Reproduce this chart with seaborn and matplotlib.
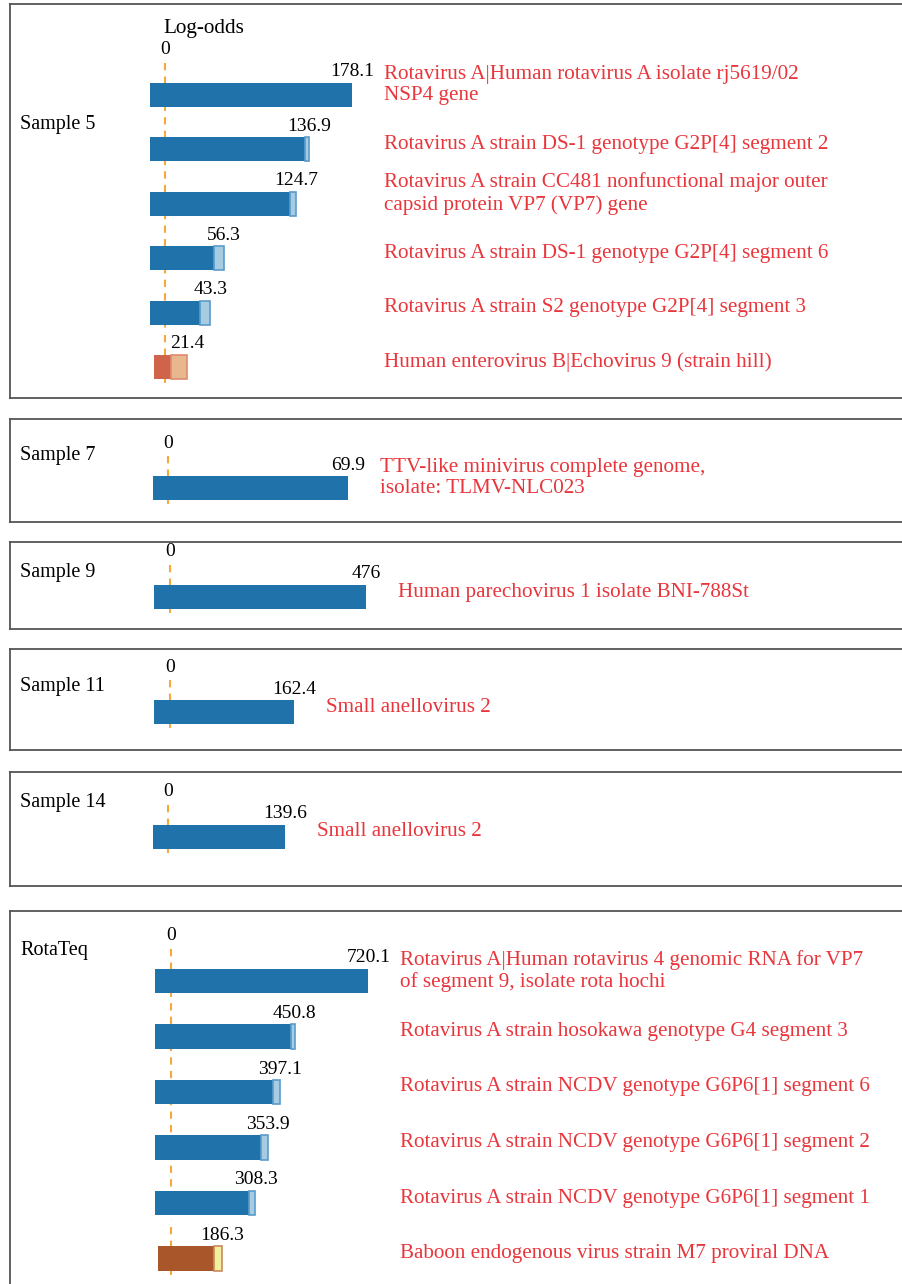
import numpy as np
import pandas as pd
import matplotlib
matplotlib.use('Agg')
import matplotlib.pyplot as plt
import seaborn as sns

# ---- data ----
s5_labels = ['Rotavirus A|Human rotavirus A isolate rj5619/02\nNSP4 gene',
             'Rotavirus A strain DS-1 genotype G2P[4] segment 2',
             'Rotavirus A strain CC481 nonfunctional major outer\ncapsid protein VP7 (VP7) gene',
             'Rotavirus A strain DS-1 genotype G2P[4] segment 6',
             'Rotavirus A strain S2 genotype G2P[4] segment 3',
             'Human enterovirus B|Echovirus 9 (strain hill)']
s5_values = [178.1, 136.9, 124.7, 56.3, 43.3, 21.4]
s5_err = [0, 3.2, 5.4, 9.8, 9.5, 15.9]
s5_kind = ['rota', 'rota', 'rota', 'rota', 'rota', 'entero']

s7_labels = ['TTV-like minivirus complete genome,\nisolate: TLMV-NLC023']
s7_values = [69.9]
s7_err = [0]
s7_kind = ['rota']

s9_labels = ['Human parechovirus 1 isolate BNI-788St']
s9_values = [476]
s9_err = [0]
s9_kind = ['rota']

s11_labels = ['Small anellovirus 2']
s11_values = [162.4]
s11_err = [0]
s11_kind = ['rota']

s14_labels = ['Small anellovirus 2']
s14_values = [139.6]
s14_err = [0]
s14_kind = ['rota']

rt_labels = ['Rotavirus A|Human rotavirus 4 genomic RNA for VP7\nof segment 9, isolate rota hochi',
             'Rotavirus A strain hosokawa genotype G4 segment 3',
             'Rotavirus A strain NCDV genotype G6P6[1] segment 6',
             'Rotavirus A strain NCDV genotype G6P6[1] segment 2',
             'Rotavirus A strain NCDV genotype G6P6[1] segment 1',
             'Baboon endogenous virus strain M7 proviral DNA']
rt_values = [720.1, 450.8, 397.1, 353.9, 308.3, 186.3]
rt_err = [0, 13.4, 24, 24, 23, 28]
rt_kind = ['rota', 'rota', 'rota', 'rota', 'rota', 'retro']

sample_names = ['Sample 5', 'Sample 7', 'Sample 9', 'Sample 11', 'Sample 14', 'RotaTeq']

# ---- styling ----
dark = {'rota': '#2072aa', 'entero': '#cf644b', 'retro': '#a9572a'}
light = {'rota': '#a7cbe1', 'entero': '#e9b78d', 'retro': '#f3f09c'}
light_edge = {'rota': '#5a9bcc', 'entero': '#e08a70', 'retro': '#c98a60'}
lead_px = {'rota': 15.5, 'entero': 11, 'retro': 13}
red = '#e8363c'
zero_color = '#f6a93b'

W, H = 903, 1284
# top, bottom, zero x, px per unit, first bar y, bar step, name y (all in pixels)
layout = [
    (4, 398, 165, 1.05, 95, 54.4, 125),
    (419, 522, 168.5, 2.565, 488, 54, 455),
    (542, 629, 170, 0.412, 597, 54, 573),
    (649, 750, 170, 0.762, 712, 54, 687),
    (772, 886, 168.5, 0.833, 837, 54, 803),
    (911, 1300, 171, 0.274, 981, 55.5, 950),
]

sns.set_theme(style='white')
plt.rcParams['font.family'] = ['Liberation Serif', 'DejaVu Serif']
FS_NUM = 14
FS_NAME = 14.5
FS_LAB = 15.2

fig = plt.figure(figsize=(W / 100, H / 100), dpi=100)

panels = [
    (s5_labels, s5_values, s5_err, s5_kind),
    (s7_labels, s7_values, s7_err, s7_kind),
    (s9_labels, s9_values, s9_err, s9_kind),
    (s11_labels, s11_values, s11_err, s11_kind),
    (s14_labels, s14_values, s14_err, s14_kind),
    (rt_labels, rt_values, rt_err, rt_kind),
]

ax_left, ax_right = 10, 915

for k, ((labels, values, errs, kinds), (top, bot, zx, ppu, y0, step, ny)) in enumerate(zip(panels, layout)):
    ax = fig.add_axes([ax_left / W, 1 - bot / H, (ax_right - ax_left) / W, (bot - top) / H])
    n = len(values)
    values = np.array(values, dtype=float)
    errs = np.array(errs, dtype=float)
    df = pd.DataFrame({'row': [str(i) for i in range(n)],
                       'solid': values - errs,
                       'kind': kinds})
    sns.barplot(data=df, x='solid', y='row', hue='kind', palette=dark, orient='h',
                width=0.44, dodge=False, legend=False, errorbar=None,
                saturation=1, linewidth=0, ax=ax, zorder=2)
    # bars start a little left of zero
    for p in ax.patches:
        i = int(round(p.get_y() + p.get_height() / 2))
        lead = lead_px[kinds[i]] / ppu
        p.set_x(-lead)
        p.set_width(p.get_width() + lead)

    # lighter end segment
    for i in range(n):
        if errs[i] > 0:
            ax.barh(i, errs[i], left=values[i] - errs[i], height=0.44,
                    color=light[kinds[i]], edgecolor=light_edge[kinds[i]],
                    linewidth=1.2, zorder=2)

    ax.set_xlim((ax_left - zx) / ppu, (ax_right - zx) / ppu)
    ax.set_ylim((bot - y0) / step, (top - y0) / step)

    # dashed zero line, one per run of same-colored bars
    start = 0
    for i in range(1, n + 1):
        if i == n or kinds[i] != kinds[start]:
            ax.plot([0, 0], [start - 32 / step, (i - 1) + 17 / step],
                    color=zero_color, lw=1.5, ls=(0, (3.5, 3)), zorder=1)
            start = i

    ax.text(0, -45 / step, '0', ha='center', va='center', fontsize=FS_NUM, color='black')
    if k == 0:
        ax.text(-2 / ppu, -67 / step, 'Log-odds', ha='left', va='center',
                fontsize=FS_LAB, color='black')

    for i in range(n):
        txt = f'{values[i]:g}'
        ax.text(values[i], i - 23 / step, txt,
                ha='center', va='center', fontsize=FS_NUM, color='black')
        dy = 10 if '\n' in labels[i] else 5
        ax.text(values.max() + 32 / ppu, i - dy / step, labels[i], ha='left', va='center',
                fontsize=FS_LAB, color=red, linespacing=1.2)

    ax.set_xticks([])
    ax.set_yticks([])
    ax.set_xlabel('')
    ax.set_ylabel('')
    for s in ax.spines.values():
        s.set_visible(True)
        s.set_color('#555555')
        s.set_linewidth(1.3)

    fig.text(20 / W, 1 - ny / H, sample_names[k], ha='left', va='center',
             fontsize=FS_NAME, color='black')

fig.savefig('out.png', dpi=100)
